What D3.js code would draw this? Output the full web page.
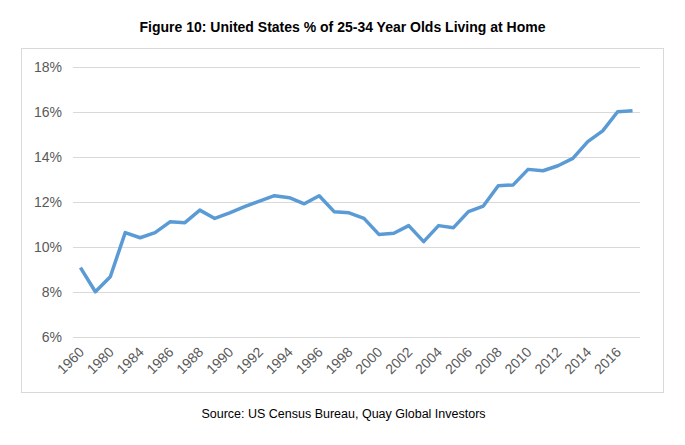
<!DOCTYPE html>
<html lang="en">
<head>
    <meta charset="UTF-8">
    <title>Living at Home</title>
    <script src="https://d3js.org/d3.v7.min.js"></script>
    <style>
        html, body {
            margin: 0;
            background: #fff;
        }
        svg text {
            font-family: "Liberation Sans", Arial, sans-serif;
        }
    </style>
</head>
<body>
<div id="vis"></div>
<script>
var years = ["1960", "1970", "1980", "1983", "1984", "1985", "1986", "1987", "1988", "1989",
    "1990", "1991", "1992", "1993", "1994", "1995", "1996", "1997", "1998", "1999",
    "2000", "2001", "2002", "2003", "2004", "2005", "2006", "2007", "2008", "2009",
    "2010", "2011", "2012", "2013", "2014", "2015", "2016", "2017"];

var pct = [9.08, 8.01, 8.68, 10.64, 10.41, 10.64, 11.12, 11.08, 11.64, 11.27,
    11.52, 11.79, 12.04, 12.28, 12.19, 11.92, 12.28, 11.57, 11.52, 11.27,
    10.56, 10.61, 10.95, 10.24, 10.95, 10.86, 11.57, 11.82, 12.72, 12.76,
    13.45, 13.39, 13.61, 13.94, 14.68, 15.16, 16.01, 16.06];

var xLabels = ["1960", "1980", "1984", "1986", "1988", "1990", "1992", "1994", "1996", "1998",
    "2000", "2002", "2004", "2006", "2008", "2010", "2012", "2014", "2016"];

var yTicks = [6, 8, 10, 12, 14, 16, 18];

var W = 685, H = 445;
var margin = {top: 67, right: 45, bottom: 108, left: 73};
var width = W - margin.left - margin.right;
var height = H - margin.top - margin.bottom;

var root = d3.select('#vis')
    .append('svg')
    .attr('width', W)
    .attr('height', H);

// chart frame
root.append('rect')
    .attr('x', 21.5)
    .attr('y', 48.5)
    .attr('width', 642)
    .attr('height', 344)
    .attr('fill', 'none')
    .attr('stroke', '#d9d9d9');

root.append('text')
    .attr('x', W / 2)
    .attr('y', 32)
    .attr('text-anchor', 'middle')
    .style('font-size', '14px')
    .style('font-weight', 'bold')
    .attr('fill', '#000')
    .text('Figure 10: United States % of 25-34 Year Olds Living at Home');

root.append('text')
    .attr('x', W / 2 + 1)
    .attr('y', 418)
    .attr('text-anchor', 'middle')
    .style('font-size', '12.5px')
    .attr('fill', '#000')
    .text('Source: US Census Bureau, Quay Global Investors');

var svg = root.append('g')
    .attr('transform', 'translate(' + margin.left + ',' + margin.top + ')');

var x_scale = d3.scalePoint()
    .domain(years)
    .range([0, width])
    .padding(0.5);

var y_scale = d3.scaleLinear()
    .domain([6, 18])
    .range([height, 0]);

// gridlines + y labels
var y_axis = d3.axisLeft(y_scale)
    .tickValues(yTicks)
    .tickSize(-width)
    .tickPadding(11)
    .tickFormat(function(d) { return d + '%'; });

var gy = svg.append('g')
    .attr('class', 'y axis')
    .call(y_axis);
gy.select('.domain').remove();
gy.selectAll('line').attr('stroke', '#d9d9d9');
gy.selectAll('text')
    .attr('fill', '#595959')
    .style('font-size', '14px');

var x_axis = d3.axisBottom(x_scale)
    .tickValues(xLabels)
    .tickSize(0);

var gx = svg.append('g')
    .attr('class', 'x axis')
    .attr('transform', 'translate(0,' + height + ')')
    .call(x_axis);
gx.select('.domain').remove();
gx.selectAll('text')
    .attr('fill', '#595959')
    .style('font-size', '14px')
    .attr('text-anchor', 'end')
    .attr('dy', null)
    .attr('y', 0)
    .attr('transform', 'translate(4,16) rotate(-45)');

var line = d3.line()
    .x(function(d, i) { return x_scale(years[i]); })
    .y(function(d) { return y_scale(d); });

svg.append('path')
    .datum(pct)
    .attr('d', line)
    .attr('fill', 'none')
    .attr('stroke', '#5b9bd5')
    .attr('stroke-width', 3.5)
    .attr('stroke-linejoin', 'round');
</script>
</body>
</html>
